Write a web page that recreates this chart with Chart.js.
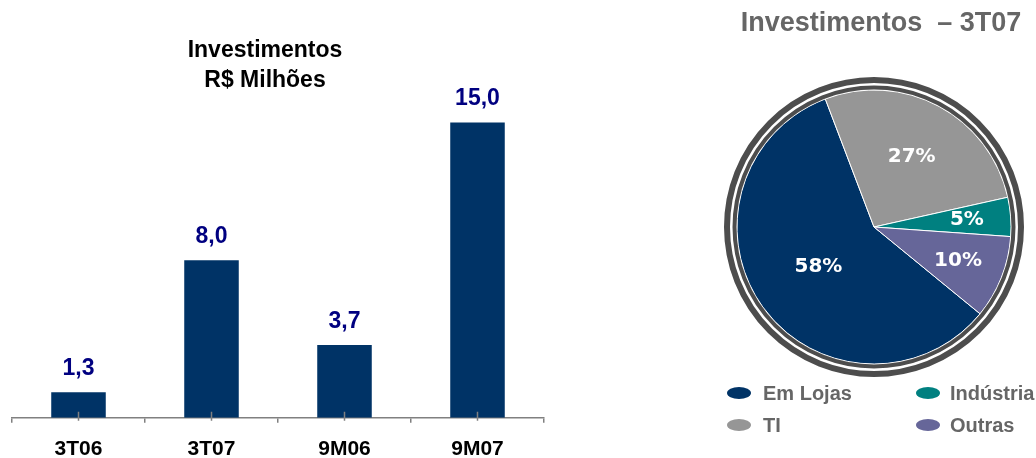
<!DOCTYPE html>
<html>
<head>
<meta charset="utf-8">
<script src="https://cdn.jsdelivr.net/npm/chart.js@4"></script>
<style>
  body { margin: 0; width: 1036px; height: 458px; overflow: hidden; background: #fff; position: relative; }
  #barChart { position: absolute; left: 0; top: 0; }
  #pieChart { position: absolute; left: 690px; top: 0; }
  .leg { position: absolute; font: bold 20px Arial, "Liberation Sans", sans-serif; color: #666; line-height: 20px; white-space: nowrap; }
  .dot { position: absolute; width: 24px; height: 12px; border-radius: 50%; }
</style>
</head>
<body>
<canvas id="barChart" width="560" height="476"></canvas>
<canvas id="pieChart" width="346" height="458"></canvas>
<div id="legend"></div>

<script>
// ---------- DATA ----------
const barTitle = ["Investimentos", "R$ Milhões"];
const barCategories = ["3T06", "3T07", "9M06", "9M07"];
const barValues = [1.3, 8.0, 3.7, 15.0];

const pieTitle = "Investimentos  – 3T07";
const pieLabels = ["Em Lojas", "TI", "Indústria", "Outras"];
const pieShares = [58.3, 27.3, 4.6, 9.8];

// ---------- STYLE ----------
const FONT = 'Arial, "Liberation Sans", sans-serif';
const barColor = "#003366";
const valueColor = "#000080";
const axisColor = "#808080";
const pieColors = ["#003366", "#969696", "#008080", "#666699"];
const pieLabelRadius = [0.5, 0.58, 0.68, 0.66];

// ---------- BAR CHART ----------
const barTitlePlugin = {
  id: "barTitle",
  afterDraw(chart) {
    const ctx = chart.ctx;
    ctx.save();
    ctx.font = `bold 23px ${FONT}`;
    ctx.fillStyle = "#000";
    ctx.textAlign = "center";
    ctx.textBaseline = "alphabetic";
    barTitle.forEach((t, i) => ctx.fillText(t, 265, 57 + i * 30));
    ctx.restore();
  }
};

const valueLabelPlugin = {
  id: "valueLabels",
  afterDatasetsDraw(chart) {
    const ctx = chart.ctx;
    const meta = chart.getDatasetMeta(0);
    ctx.save();
    ctx.font = `bold 23px ${FONT}`;
    ctx.fillStyle = valueColor;
    ctx.textAlign = "center";
    ctx.textBaseline = "alphabetic";
    meta.data.forEach((bar, i) => {
      ctx.fillText(barValues[i].toFixed(1).replace(".", ","), bar.x, bar.y - 17);
    });
    ctx.restore();
  }
};

// small marks at each category centre, crossing the axis
const centerTickPlugin = {
  id: "centerTicks",
  afterDatasetsDraw(chart) {
    const ctx = chart.ctx;
    const x = chart.scales.x;
    const y0 = chart.chartArea.bottom;
    ctx.save();
    ctx.strokeStyle = axisColor;
    ctx.lineWidth = 1.5;
    ctx.beginPath();
    for (let i = 0; i < barCategories.length; i++) {
      const px = x.getPixelForTick(i);
      ctx.moveTo(px, y0 + 3);
      ctx.lineTo(px, y0 - 6);
    }
    ctx.stroke();
    ctx.restore();
  }
};

new Chart(document.getElementById("barChart").getContext("2d"), {
  type: "bar",
  data: {
    labels: barCategories,
    datasets: [{
      data: barValues,
      backgroundColor: barColor,
      borderWidth: 0,
      categoryPercentage: 1,
      barPercentage: 0.41
    }]
  },
  options: {
    responsive: false,
    animation: false,
    layout: { padding: { left: 12, right: 16, top: 24, bottom: 0 } },
    plugins: { legend: { display: false }, tooltip: { enabled: false } },
    scales: {
      x: {
        grid: { display: true, drawOnChartArea: false, drawTicks: true, tickLength: 5, color: axisColor, lineWidth: 1.5 },
        border: { display: true, color: axisColor, width: 1.5 },
        ticks: { font: { family: FONT, size: 21, weight: "bold" }, color: "#000", padding: 14 }
      },
      y: { display: false, min: 0, max: 20 }
    }
  },
  plugins: [barTitlePlugin, valueLabelPlugin, centerTickPlugin]
});

// ---------- PIE CHART ----------
const pieRingPlugin = {
  id: "pieRing",
  afterDatasetsDraw(chart) {
    const arc = chart.getDatasetMeta(0).data[0];
    const ctx = chart.ctx;
    ctx.save();
    ctx.strokeStyle = "#4d4d4d";
    ctx.lineWidth = 4;
    ctx.beginPath();
    ctx.arc(arc.x, arc.y, arc.outerRadius + 2.5, 0, Math.PI * 2);
    ctx.stroke();
    ctx.lineWidth = 6;
    ctx.beginPath();
    ctx.arc(arc.x, arc.y, arc.outerRadius + 10, 0, Math.PI * 2);
    ctx.stroke();
    ctx.restore();
  }
};

const pieLabelPlugin = {
  id: "pieLabels",
  afterDatasetsDraw(chart) {
    const ctx = chart.ctx;
    const meta = chart.getDatasetMeta(0);
    ctx.save();
    ctx.font = `bold 20px "DejaVu Sans", Verdana, sans-serif`;
    ctx.fillStyle = "#fff";
    ctx.textAlign = "center";
    ctx.textBaseline = "middle";
    meta.data.forEach((a, i) => {
      const mid = (a.startAngle + a.endAngle) / 2;
      const r = a.outerRadius * pieLabelRadius[i];
      ctx.fillText(Math.round(pieShares[i]) + "%", a.x + Math.cos(mid) * r, a.y + Math.sin(mid) * r);
    });
    ctx.restore();
  }
};

const pieTitlePlugin = {
  id: "pieTitle",
  afterDraw(chart) {
    const ctx = chart.ctx;
    ctx.save();
    ctx.font = `bold 27px ${FONT}`;
    ctx.fillStyle = "#666";
    ctx.textAlign = "center";
    ctx.textBaseline = "alphabetic";
    ctx.fillText(pieTitle, 191, 31);
    ctx.restore();
  }
};

new Chart(document.getElementById("pieChart").getContext("2d"), {
  type: "pie",
  data: {
    labels: pieLabels,
    datasets: [{
      data: pieShares,
      backgroundColor: pieColors,
      borderColor: "#fff",
      borderWidth: 1,
      radius: 137,
      rotation: 129.3
    }]
  },
  options: {
    responsive: false,
    animation: false,
    layout: { padding: { left: 22, right: 0, top: 0, bottom: 4 } },
    plugins: { legend: { display: false }, tooltip: { enabled: false } }
  },
  plugins: [pieRingPlugin, pieLabelPlugin, pieTitlePlugin]
});

// ---------- LEGEND (two columns, filled column by column) ----------
const legend = document.getElementById("legend");
const legDotX = [727, 916];
const legTextX = [763, 950];
const legRowY = [393, 425];
pieLabels.forEach((name, i) => {
  const col = Math.floor(i / 2);
  const row = i % 2;
  const dot = document.createElement("div");
  dot.className = "dot";
  dot.style.left = legDotX[col] + "px";
  dot.style.top = (legRowY[row] - 6) + "px";
  dot.style.background = pieColors[i];
  legend.appendChild(dot);
  const txt = document.createElement("div");
  txt.className = "leg";
  txt.style.left = legTextX[col] + "px";
  txt.style.top = (legRowY[row] - 10) + "px";
  txt.innerText = name;
  legend.appendChild(txt);
});
</script>
</body>
</html>
